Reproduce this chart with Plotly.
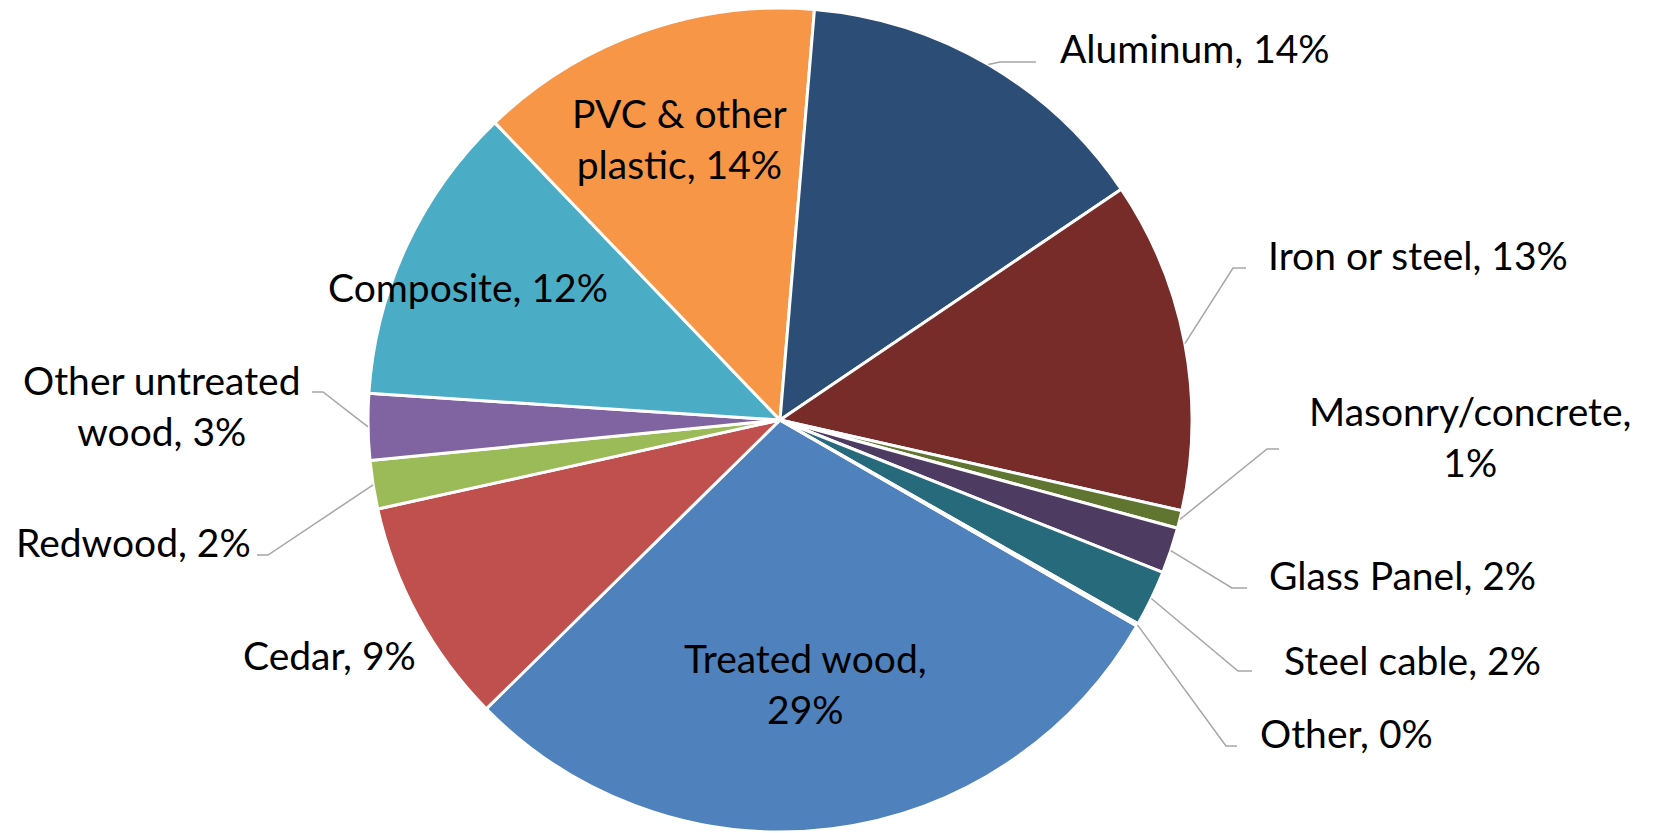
import math
import plotly.graph_objects as go

materials = ['Treated wood', 'Cedar', 'Redwood', 'Other untreated wood', 'Composite',
             'PVC & other plastic', 'Aluminum', 'Iron or steel', 'Masonry/concrete',
             'Glass Panel', 'Steel cable', 'Other']
shares = [29.3, 8.9, 1.9, 2.6, 11.8, 13.5, 14.2, 13.0, 0.7, 1.8, 2.2, 0.1]
colors = ['#4F81BD', '#C0504D', '#9BBB59', '#8064A2', '#4BACC6', '#F79646',
          '#2C4D75', '#772C2A', '#5F7530', '#4D3B62', '#276A7C', '#B65708']

W, H = 1655, 833
cx, cy, R = 780, 420, 412   # pie centre / radius in px
start_angle = 120           # first slice angle, clockwise from 12 o'clock

# label placement: text centre (px), optional line break, leader elbow + end (px)
label_pos = {
    'Treated wood': (805, 683), 'Cedar': (329, 655), 'Redwood': (133, 542),
    'Other untreated wood': (162, 405), 'Composite': (468, 287),
    'PVC & other plastic': (679, 138), 'Aluminum': (1195, 48),
    'Iron or steel': (1418, 255), 'Masonry/concrete': (1470, 436),
    'Glass Panel': (1402, 575), 'Steel cable': (1412, 660), 'Other': (1346, 733),
}
breaks = {'Treated wood': ', ', 'PVC & other plastic': 'other ',
          'Other untreated wood': 'untreated ', 'Masonry/concrete': ', '}
leaders = {
    'Aluminum': (1000, 62, 1036), 'Iron or steel': (1233, 268, 1246),
    'Masonry/concrete': (1267, 449, 1279), 'Glass Panel': (1232, 588, 1247),
    'Steel cable': (1238, 671, 1252), 'Other': (1226, 746, 1237),
    'Other untreated wood': (323, 392, 312), 'Redwood': (268, 555, 257),
}


def px(x):
    return x / W


def py(y):
    return 1 - y / H


fig = go.Figure(go.Pie(
    labels=materials, values=shares, sort=False, direction='clockwise',
    rotation=start_angle, textinfo='none', hoverinfo='label+percent',
    marker=dict(colors=colors, line=dict(color='white', width=3)),
    domain=dict(x=[px(cx - R), px(cx + R)], y=[py(cy + R), py(cy - R)]),
    showlegend=False,
))

total = sum(shares)
acc = 0
annotations, shapes = [], []
for name, v in zip(materials, shares):
    mid = math.radians(start_angle + (acc + v / 2) / total * 360)
    acc += v
    text = f'{name}, {round(v / total * 100)}%'
    if name in breaks:
        text = text.replace(breaks[name], breaks[name].rstrip() + '<br>', 1)
    x, y = label_pos[name]
    annotations.append(dict(x=px(x), y=py(y), xref='paper', yref='paper',
                            text=text, showarrow=False, align='center',
                            xanchor='center', yanchor='middle'))
    if name in leaders:
        ex, ey, endx = leaders[name]
        sx, sy = cx + R * math.sin(mid), cy - R * math.cos(mid)
        shapes.append(dict(type='path', xref='paper', yref='paper',
                           path=f'M {px(sx)} {py(sy)} L {px(ex)} {py(ey)} L {px(endx)} {py(ey)}',
                           line=dict(color='#A6A6A6', width=1.5)))

fig.update_layout(
    width=W, height=H,
    margin=dict(l=0, r=0, t=0, b=0),
    paper_bgcolor='white',
    font=dict(family='Lato', size=39, color='black'),
    annotations=annotations,
    shapes=shapes,
)
fig.write_html('out.html', config={'displayModeBar': False},
               post_script="document.body.style.margin='0';")
